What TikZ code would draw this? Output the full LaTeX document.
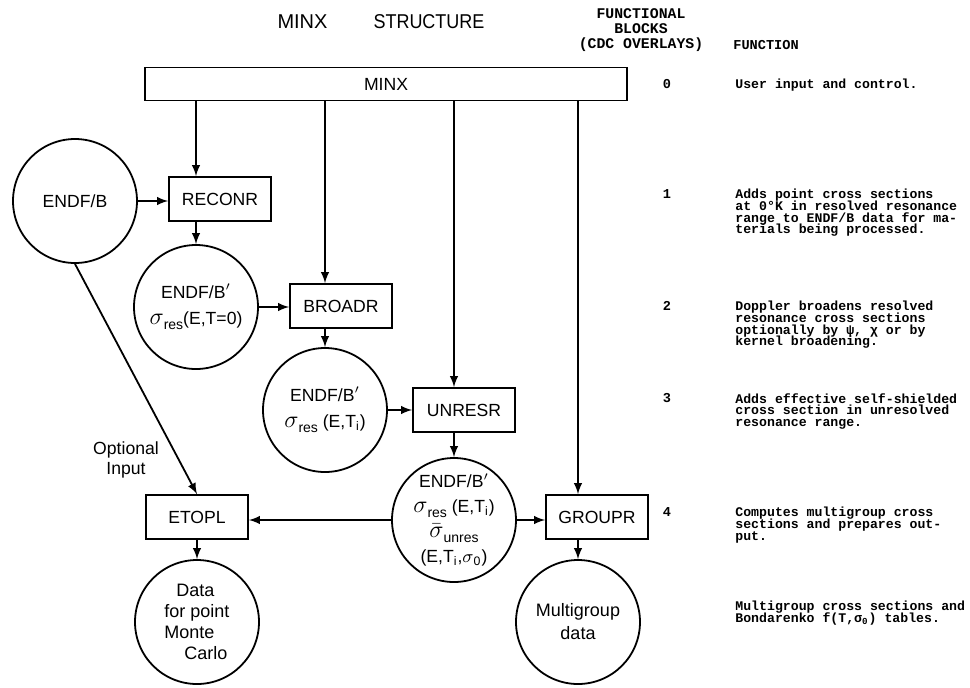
\documentclass[tikz,border=0pt]{standalone}
\usepackage{fontspec}
\setmainfont{Liberation Sans}
\setmonofont{Liberation Mono}
\newcommand{\sgm}[1]{{\fontsize{12}{12}\selectfont$\sigma$}\raisebox{-2.5pt}{\fontsize{7}{7}\selectfont#1}}
\newcommand{\sgmbar}[1]{{\fontsize{12}{12}\selectfont$\bar{\sigma}$}\raisebox{-2.5pt}{\fontsize{7}{7}\selectfont#1}}
\newcommand{\tightlines}{\lineskiplimit=-20pt\relax}

\tikzset{
  prog/.style={draw, line width=0.9pt, minimum width=51pt, minimum height=22pt, inner sep=1pt, font=\fontsize{8.8}{10}\selectfont},
  dataset/.style={draw, circle, line width=0.9pt, minimum size=62pt, inner sep=-5pt, align=center, font=\fontsize{8.8}{13}\selectfont},
  flow/.style={-latex, line width=0.9pt},
  note/.style={anchor=north west, inner sep=0pt, align=left, font=\ttfamily\bfseries\fontsize{6.6}{5.8}\selectfont\tightlines},
  ovl/.style={inner sep=0pt, font=\ttfamily\bfseries\fontsize{6.8}{7.5}\selectfont},
}

\begin{document}
\begin{tikzpicture}[x=0.5pt, y=-0.5pt]
\useasboundingbox (0,0) rectangle (970,687);

% title and column heads
\node[font=\fontsize{10}{12}\selectfont] (title) at (381,22) {MINX\hspace{23pt}\scalebox{0.9}[1]{STRUCTURE}};
\node[ovl, align=center, font=\ttfamily\bfseries\fontsize{7.4}{7.5}\selectfont\tightlines] (blocks) at (641,30) {FUNCTIONAL\\BLOCKS\\(CDC OVERLAYS)};
\node[ovl, anchor=west] (func) at (733,45) {FUNCTION};

% programs
\node[prog, minimum width=241pt, minimum height=16.5pt] (minx) at (386,84) {MINX};
\node[prog] (reconr) at (220,199) {RECONR};
\node[prog] (broadr) at (341,306) {BROADR};
\node[prog] (unresr) at (464,410) {UNRESR};
\node[prog] (etopl) at (197,517) {ETOPL};
\node[prog] (groupr) at (597,517) {GROUPR};

% data sets
\node[dataset] (endfb) at (75,201) {ENDF/B};
\node[dataset] (pend0) at (196,307) {ENDF/B$'$\\\sgm{res}(E,T=0)};
\node[dataset] (pendt) at (325,410) {ENDF/B$'$\\\sgm{res} (E,T\textsubscript{i})};
\node[dataset, font=\fontsize{8.8}{12.5}\selectfont] (pendu) at (454,520) {ENDF/B$'$\\\sgm{res} (E,T\textsubscript{i})\\\sgmbar{unres}\\(E,T\textsubscript{i},$\sigma$\textsubscript{0})};
\node[dataset, align=left, font=\fontsize{9}{10.5}\selectfont] (mcdata) at (197,622) {\hspace*{6pt}Data\\for point\\Monte\\\hspace*{10pt}Carlo};
\node[dataset, font=\fontsize{9}{11.5}\selectfont] (mgdata) at (578,622) {Multigroup\\data};
\node[align=center, font=\fontsize{8.8}{10}\selectfont] (optin) at (126,460) {Optional\\Input};

% links from MINX
\draw[flow] (pend0.north |- minx.south) -- (pend0.north |- reconr.north);
\draw[flow] (pendt.north |- minx.south) -- (pendt.north |- broadr.north);
\draw[flow] (pendu.north |- minx.south) -- (pendu.north |- unresr.north);
\draw[flow] (mgdata.north |- minx.south) -- (mgdata.north |- groupr.north);

% data flow
\draw[flow] (endfb.east) -- (endfb.east -| reconr.west);
\draw[flow] (pend0.north |- reconr.south) -- (pend0.north);
\draw[flow] (pend0.east) -- (pend0.east -| broadr.west);
\draw[flow] (pendt.north |- broadr.south) -- (pendt.north);
\draw[flow] (pendt.east) -- (pendt.east -| unresr.west);
\draw[flow] (pendu.north |- unresr.south) -- (pendu.north);
\draw[flow] (pendu.west) -- (pendu.west -| etopl.east);
\draw[flow] (pendu.east) -- (pendu.east -| groupr.west);
\draw[flow] (endfb.south) -- (etopl.north);
\draw[flow] (etopl.south) -- (mcdata.north);
\draw[flow] (mgdata.north |- groupr.south) -- (mgdata.north);

% overlays and functions
\foreach \n/\y in {0/84,1/194,2/306,3/398,4/512}
  \node[ovl] (blk\n) at (667,\y) {\n};
\node[note] (fn0) at (735,79) {User input and control.};
\node[note] (fn1) at (735,189) {Adds point cross sections\\at 0°K in resolved resonance\\range to ENDF/B data for ma-\\terials being processed.};
\node[note] (fn2) at (735,301) {Doppler broadens resolved\\resonance cross sections\\optionally by ψ, χ or by\\kernel broadening.};
\node[note] (fn3) at (735,393) {Adds effective self-shielded\\cross section in unresolved\\resonance range.};
\node[note] (fn4) at (735,507) {Computes multigroup cross\\sections and prepares out-\\put.};
\node[note] (fn5) at (735,601) {Multigroup cross sections and\\Bondarenko  f(T,σ\textsubscript{0}) tables.};

\end{tikzpicture}
\end{document}
